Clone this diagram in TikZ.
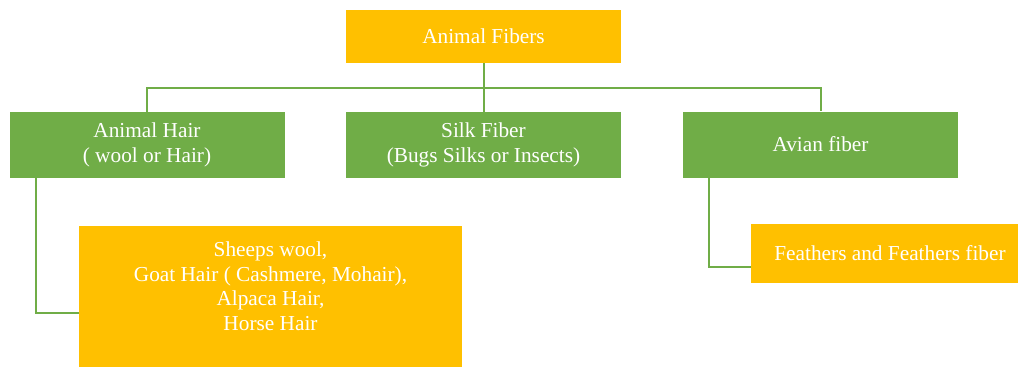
\documentclass[tikz,border=0pt]{standalone}
\usepackage{fontspec}
\setmainfont{Liberation Serif}
\usepackage{tikz}
\usetikzlibrary{positioning}
\definecolor{fibergreen}{HTML}{70AD47}
\definecolor{fiberyellow}{HTML}{FFC000}

\begin{document}
\begin{tikzpicture}[x=1pt, y=-1pt,
    box/.style={rectangle, inner sep=0pt, text=white, align=center,
                font=\rmfamily\fontsize{21.3}{24.5}\selectfont},
    greenbox/.style={box, fill=fibergreen, minimum width=275pt, minimum height=66pt},
    yellowbox/.style={box, fill=fiberyellow},
    link/.style={draw=fibergreen, line width=2pt}]
    \useasboundingbox (0,0) rectangle (1018,367);

    % Root
    \node[yellowbox, minimum width=275pt, minimum height=53pt] (root) at (483.5,36.5) {Animal Fibers};

    % Fiber groups
    \node[greenbox] (hair) at (147,145) {Animal Hair\\( wool or Hair)};
    \node[greenbox] (silk) at (483.5,145) {Silk Fiber\\(Bugs Silks or Insects)};
    \node[greenbox] (avian) at (820.5,144.5) {Avian fiber};

    % Examples
    \node[yellowbox, minimum width=383pt, minimum height=154pt] (hairbox) at (270.5,303) {};
    \node[box] (hairtext) at (270.5,286) {Sheeps wool,\\Goat Hair ( Cashmere, Mohair),\\Alpaca Hair,\\Horse Hair};
    \node[yellowbox, minimum width=278pt, minimum height=59pt] (feathers) at (890,253.5) {Feathers and Feathers fiber};

    % Connectors
    \draw[link] (root.south) -- (silk.north);
    \draw[link] (root.south) ++(0,25) coordinate (bus);
    \draw[link] (hair.north) |- (bus) -| (avian.north);
    \draw[link] ([xshift=-111pt]hair.south) |- ([yshift=-10pt]hairbox.west);
    \draw[link] ([xshift=-111.5pt]avian.south) |- ([yshift=-13.5pt]feathers.west);
\end{tikzpicture}
\end{document}
